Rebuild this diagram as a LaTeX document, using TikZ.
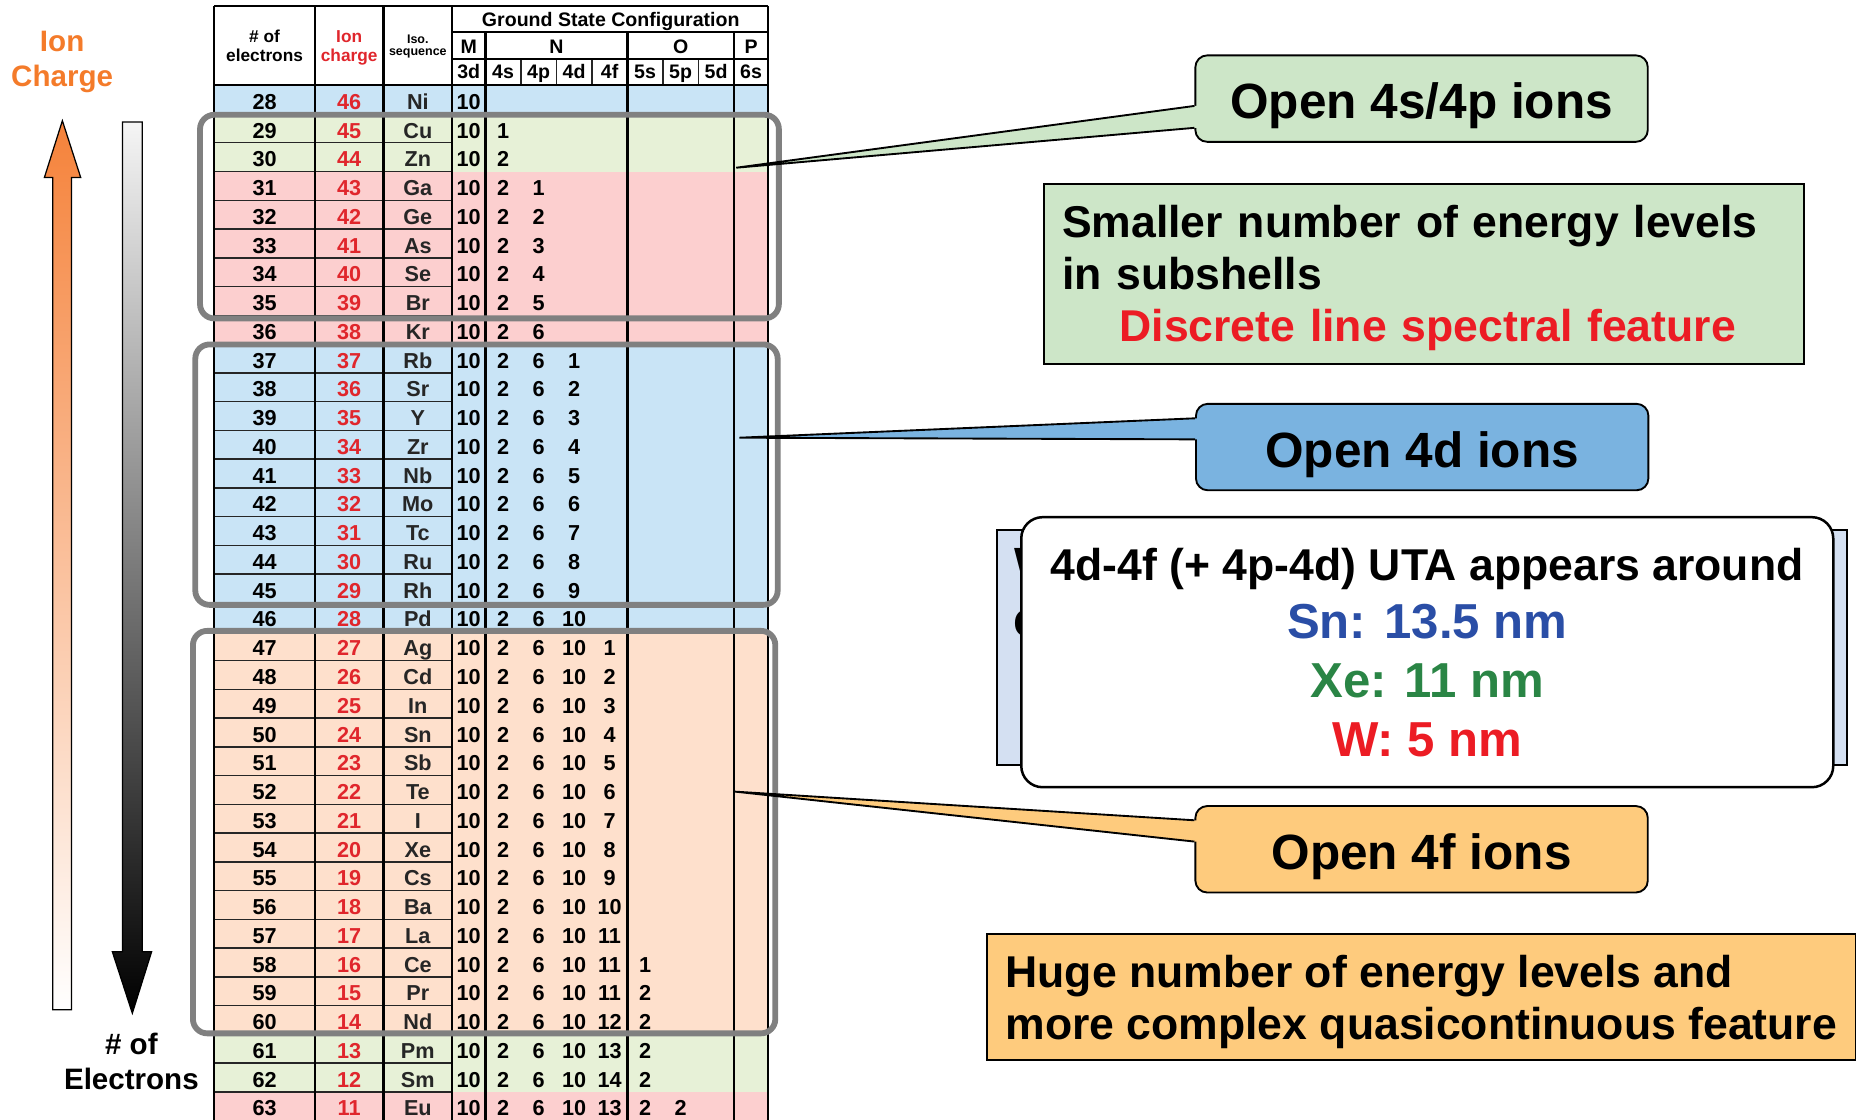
\documentclass[tikz,border=0pt]{standalone}
\usepackage{fontspec}
\setmainfont{Liberation Sans}
\usetikzlibrary{calc}

\definecolor{rowblue}{HTML}{C9E4F6}
\definecolor{rowgreen}{HTML}{E7F1D7}
\definecolor{rowpink}{HTML}{FCCFCF}
\definecolor{rowpeach}{HTML}{FEE0CC}
\definecolor{chargered}{HTML}{E0262C}
\definecolor{calgreen}{HTML}{CDE6C8}
\definecolor{calblue}{HTML}{7AB3E0}
\definecolor{calorange}{HTML}{FECB7D}
\definecolor{backblue}{HTML}{D4E0F2}
\definecolor{arroworange}{HTML}{F5823A}
\definecolor{ionorange}{HTML}{F47B2A}
\definecolor{snblue}{HTML}{2A4EA6}
\definecolor{xegreen}{HTML}{2A8545}
\definecolor{wred}{HTML}{EC1C24}
\definecolor{boxgray}{HTML}{808080}

\begin{document}
\begin{tikzpicture}[x=0.01cm,y=-0.01cm,
  tabline/.style={line width=0.6pt,black},
  rowline/.style={line width=0.35pt,black!85},
  cell/.style={anchor=base,inner sep=0pt,font=\fontsize{5.2}{6}\selectfont\bfseries},
  head/.style={anchor=base,inner sep=0pt,font=\fontsize{4.7}{5.4}\selectfont\bfseries},
  grpbox/.style={draw=boxgray,line width=1.4pt,rounded corners=0.12cm},
  callout/.style={rectangle,rounded corners=0.1cm,draw=black,line width=0.45pt,
    minimum width=3.82cm,minimum height=0.73cm,inner sep=0pt,
    text height=11.9pt,text depth=2.1pt,font=\fontsize{11.9}{14}\selectfont\bfseries},
  pointer/.style={line width=0.45pt,black},
  notebox/.style={rectangle,draw=black,line width=0.45pt,inner ysep=0pt,
    font=\fontsize{10.7}{12.5}\selectfont\bfseries},
  sidelabel/.style={align=center,inner sep=0pt,font=\fontsize{7.1}{8.4}\selectfont\bfseries}]
\useasboundingbox (0,0) rectangle (1568,946);

% row colours
\foreach \a/\b/\col in {0/1/rowblue,1/3/rowgreen,3/9/rowpink,9/19/rowblue,
                        19/33/rowpeach,33/35/rowgreen,35/36/rowpink}
  \fill[\col] (181,{72+24.3*\a}) rectangle (649,{72+24.3*\b});

% table header
\node[head] (gsc) at (516,22.3) {Ground State Configuration};
\node[align=center,inner sep=0pt,font=\fontsize{4.15}{4.55}\selectfont\bfseries] (nelh) at (223.5,38.7) {\# of\\electrons};
\node[align=center,inner sep=0pt,text=chargered,font=\fontsize{4.15}{4.55}\selectfont\bfseries] (qh) at (295,40.2) {Ion\\charge};
\node[align=center,inner sep=0pt,font=\fontsize{3}{3.1}\selectfont\bfseries] (isoh) at (353,39.3) {Iso.\\sequence};
\foreach \lab/\x in {M/396,N/470,O/575,P/634.5}
  \node[head] (sh\lab) at (\x,45.5) {\lab};
\foreach \lab/\x in {3d/396,4s/425,4p/455,4d/485,4f/515,5s/545,5p/575,5d/605,6s/634.5}
  \node[head] (ss\lab) at (\x,66) {\lab};

% table rows
\foreach \nel/\chg/\elsym/\cfg [count=\i from 0] in {
  28/46/Ni/{10},
  29/45/Cu/{10,1},
  30/44/Zn/{10,2},
  31/43/Ga/{10,2,1},
  32/42/Ge/{10,2,2},
  33/41/As/{10,2,3},
  34/40/Se/{10,2,4},
  35/39/Br/{10,2,5},
  36/38/Kr/{10,2,6},
  37/37/Rb/{10,2,6,1},
  38/36/Sr/{10,2,6,2},
  39/35/Y/{10,2,6,3},
  40/34/Zr/{10,2,6,4},
  41/33/Nb/{10,2,6,5},
  42/32/Mo/{10,2,6,6},
  43/31/Tc/{10,2,6,7},
  44/30/Ru/{10,2,6,8},
  45/29/Rh/{10,2,6,9},
  46/28/Pd/{10,2,6,10},
  47/27/Ag/{10,2,6,10,1},
  48/26/Cd/{10,2,6,10,2},
  49/25/In/{10,2,6,10,3},
  50/24/Sn/{10,2,6,10,4},
  51/23/Sb/{10,2,6,10,5},
  52/22/Te/{10,2,6,10,6},
  53/21/I/{10,2,6,10,7},
  54/20/Xe/{10,2,6,10,8},
  55/19/Cs/{10,2,6,10,9},
  56/18/Ba/{10,2,6,10,10},
  57/17/La/{10,2,6,10,11},
  58/16/Ce/{10,2,6,10,11,1},
  59/15/Pr/{10,2,6,10,11,2},
  60/14/Nd/{10,2,6,10,12,2},
  61/13/Pm/{10,2,6,10,13,2},
  62/12/Sm/{10,2,6,10,14,2},
  63/11/Eu/{10,2,6,10,13,2,2}}
{
  \pgfmathsetmacro\yb{72+24.3*\i+20.3}
  \node[cell] (e\nel) at (223.5,\yb) {\nel};
  \node[cell,text=chargered] (q\nel) at (295,\yb) {\chg};
  \node[cell,text=black!85] (s\nel) at (353,\yb) {\elsym};
  \foreach \v [count=\k] in \cfg {
    \pgfmathsetmacro\xc{{396,425,455,485,515,545,575,605,634.5}[\k-1]}
    \node[cell] (c\nel-\k) at (\xc,\yb) {\v};
  }
}

% table lines
\foreach \k in {1,...,35}
  \draw[rowline] (181,{72+24.3*\k}) -- (382,{72+24.3*\k});
\foreach \x in {440,470,500,560,590}
  \draw[rowline] (\x,50) -- (\x,72);
\draw[tabline] (181,5) -- (649,5);
\draw[tabline] (382,27) -- (649,27);
\draw[tabline] (382,50) -- (649,50);
\draw[tabline] (181,72) -- (649,72);
\foreach \x in {181,266,324,382,649}
  \draw[tabline] (\x,5) -- (\x,950);
\foreach \x in {410,530,620}
  \draw[tabline] (\x,27) -- (\x,950);

% group frames
\draw[grpbox] (169,97) rectangle (658,269);
\draw[grpbox] (165,291) rectangle (657,511);
\draw[grpbox] (163,533) rectangle (655,873);

% left arrows
\node[sidelabel,text=ionorange] (ionq) at (52.5,52.4) {Ion\\Charge};
\path[draw=black,line width=0.3pt,top color=arroworange,bottom color=white]
  (44.5,853) -- (44.5,150) -- (37.5,150) -- (52.7,102) -- (68.2,150)
  -- (60.5,150) -- (60.5,853) -- cycle;
\path[draw=black,line width=0.3pt,top color=white!96!black,bottom color=black]
  (103.4,103) -- (120.2,103) -- (120.2,804) -- (128.1,804) -- (111.8,856)
  -- (94.9,804) -- (103.4,804) -- cycle;
\node[sidelabel] (nel) at (111,896.9) {\# of\\Electrons};

% UTA box
\filldraw[fill=backblue,draw=black,line width=0.45pt] (842.5,448) rectangle (1560.5,646);
\node[anchor=base west,inner sep=0pt,font=\fontsize{11.9}{14}\selectfont\bfseries] (hidw) at (856,492) {W};
\node[anchor=base west,inner sep=0pt,font=\fontsize{11.9}{14}\selectfont\bfseries] (hidc) at (855.5,538) {c};
\node[rectangle,rounded corners=0.18cm,draw=black,line width=0.6pt,fill=white,
  minimum width=6.856cm,minimum height=2.28cm,align=center,inner sep=0pt,
  font=\fontsize{10.7}{14.1}\selectfont\bfseries] (uta) at (1205.8,551)
  {4d-4f (+ 4p-4d) UTA appears around\\
   {\fontsize{11.8}{14.1}\selectfont\color{snblue}Sn: 13.5 nm}\\
   {\fontsize{11.8}{14.1}\selectfont\color{xegreen}Xe: 11 nm}\\
   {\fontsize{11.8}{14.1}\selectfont\color{wred}W: 5 nm}};

% callouts
\node[callout,fill=calgreen] (open4s) at (1201,83.3) {Open 4s/4p ions};
\coordinate (tip4s) at (622,141.7);
\fill[calgreen] (tip4s) -- ($(open4s.west)+(0,6.2)$) -- ($(open4s.west)+(2,6.2)$)
  -- ($(open4s.west)+(2,24.7)$) -- ($(open4s.west)+(0,24.7)$) -- cycle;
\draw[pointer] ($(open4s.west)+(0,6.2)$) -- (tip4s) ($(open4s.west)+(0,24.7)$) -- (tip4s);

\node[callout,fill=calblue] (open4d) at (1201.5,377.7) {Open 4d ions};
\coordinate (tip4d) at (624.6,369.8);
\fill[calblue] (tip4d) -- ($(open4d.west)+(0,-24.3)$) -- ($(open4d.west)+(2,-24.3)$)
  -- ($(open4d.west)+(2,-6.5)$) -- ($(open4d.west)+(0,-6.5)$) -- cycle;
\draw[pointer] ($(open4d.west)+(0,-24.3)$) -- (tip4d) ($(open4d.west)+(0,-6.5)$) -- (tip4d);

\node[callout,fill=calorange] (open4f) at (1201,717.5) {Open 4f ions};
\coordinate (tip4f) at (621,668.8);
\fill[calorange] (tip4f) -- ($(open4f.west)+(0,-24.5)$) -- ($(open4f.west)+(2,-24.5)$)
  -- ($(open4f.west)+(2,-6.5)$) -- ($(open4f.west)+(0,-6.5)$) -- cycle;
\draw[pointer] ($(open4f.west)+(0,-24.5)$) -- (tip4f) ($(open4f.west)+(0,-6.5)$) -- (tip4f);

% notes
\node[notebox,fill=calgreen,anchor=north west,minimum height=1.515cm,
  text width=6.11cm,inner xsep=0.155cm,align=left,text depth=25.3pt] (fewlev) at (881,155)
  {Smaller number of energy levels\\in subshells\\
   \hspace*{0.485cm}\textcolor{wred}{Discrete line spectral feature}};
\node[notebox,fill=calorange,anchor=north west,minimum width=7.335cm,
  minimum height=1.065cm,inner xsep=0pt,align=left,text depth=0pt] (manylev) at (833,788.5)
  {Huge number of energy levels and\\more complex quasicontinuous feature};
\end{tikzpicture}
\end{document}
